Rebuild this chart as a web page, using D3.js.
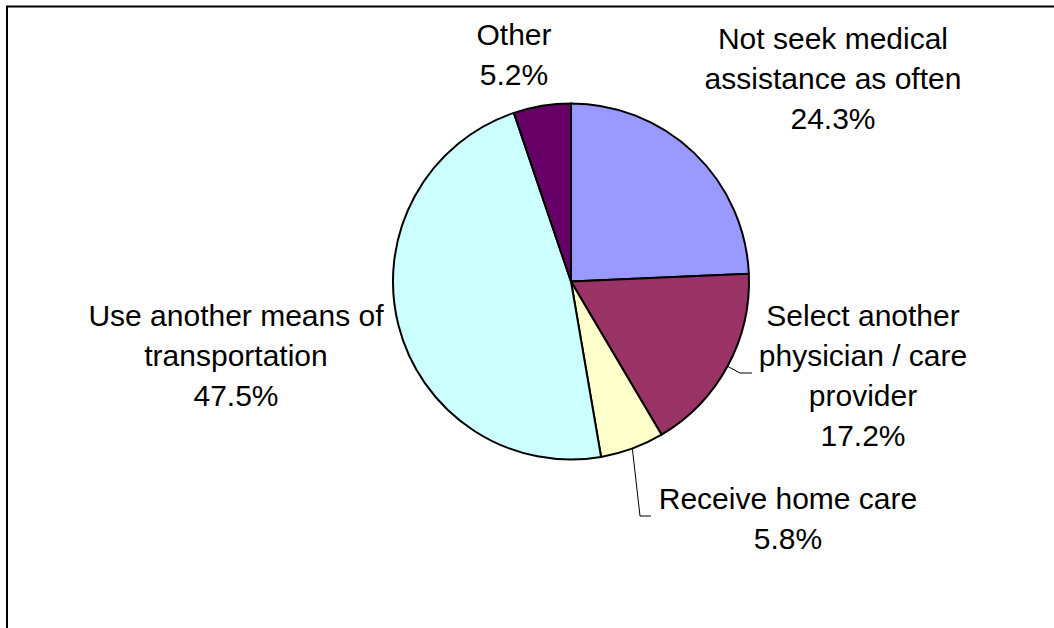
<!DOCTYPE html>
<html>
<head>
<meta charset="utf-8">
<script src="https://cdn.jsdelivr.net/npm/d3@7"></script>
<style>
  html, body { margin: 0; padding: 0; background: #fff; overflow: hidden; }
  svg { display: block; }
</style>
</head>
<body>
<svg id="chart" width="1054" height="628"></svg>
<script>
// data
var categories = ["Not seek medical assistance as often", "Select another physician / care provider", "Receive home care", "Use another means of transportation", "Other"];
var shares = [24.3, 17.2, 5.8, 47.5, 5.2];
var labelLines = [
  ["Not seek medical", "assistance as often"],
  ["Select another", "physician / care", "provider"],
  ["Receive home care"],
  ["Use another means of", "transportation"],
  ["Other"]
];
var colors = ["#9999FF", "#993366", "#FFFFCC", "#CCFFFF", "#660066"];

// label layout (centre x, first baseline y) and which ones get a leader line
var labelPos = [
  {x: 833, y: 49, leader: false},
  {x: 863, y: 326, leader: true, lx: 752, ly: 373, kx: 740},
  {x: 788, y: 509, leader: true, lx: 651, ly: 516, kx: 640},
  {x: 236, y: 326, leader: false},
  {x: 514, y: 45, leader: false}
];

var svg = d3.select("#chart");
var cx = 571, cy = 281.5, r = 178, lineH = 40;

// outer frame (right and bottom edges fall outside the picture)
svg.append("rect")
    .attr("x", 7).attr("y", 6.5)
    .attr("width", 1200).attr("height", 800)
    .attr("fill", "none")
    .attr("stroke", "#000")
    .attr("stroke-width", 2);

var pie = d3.pie().sort(null).value(function(d) { return d; });
var arc = d3.arc().innerRadius(0).outerRadius(r);
var arcs = pie(shares);

var g = svg.append("g").attr("transform", "translate(" + cx + "," + cy + ")");

g.selectAll("path.slice")
  .data(arcs)
  .enter().append("path")
    .attr("class", "slice")
    .attr("d", arc)
    .attr("fill", function(d, i) { return colors[i]; })
    .attr("stroke", "#000")
    .attr("stroke-width", 2)
    .attr("stroke-linejoin", "round");

// leader lines from the arc edge at the middle angle
arcs.forEach(function(d, i) {
  var p = labelPos[i];
  if (!p.leader) return;
  var a = (d.startAngle + d.endAngle) / 2;
  var sx = cx + r * Math.sin(a), sy = cy - r * Math.cos(a);
  svg.append("path")
      .attr("d", "M" + sx + "," + sy + "L" + p.kx + "," + p.ly + "L" + p.lx + "," + p.ly)
      .attr("fill", "none")
      .attr("stroke", "#000")
      .attr("stroke-width", 1);
});

// labels
arcs.forEach(function(d, i) {
  var p = labelPos[i];
  var lines = labelLines[i].concat([shares[i].toFixed(1) + "%"]);
  var t = svg.append("text")
      .attr("x", p.x).attr("y", p.y)
      .attr("text-anchor", "middle")
      .attr("font-family", "Arial, 'Liberation Sans', sans-serif")
      .attr("font-size", 30)
      .attr("fill", "#000");
  lines.forEach(function(s, j) {
    t.append("tspan").attr("x", p.x).attr("y", p.y + j * lineH).text(s);
  });
});
</script>
</body>
</html>
